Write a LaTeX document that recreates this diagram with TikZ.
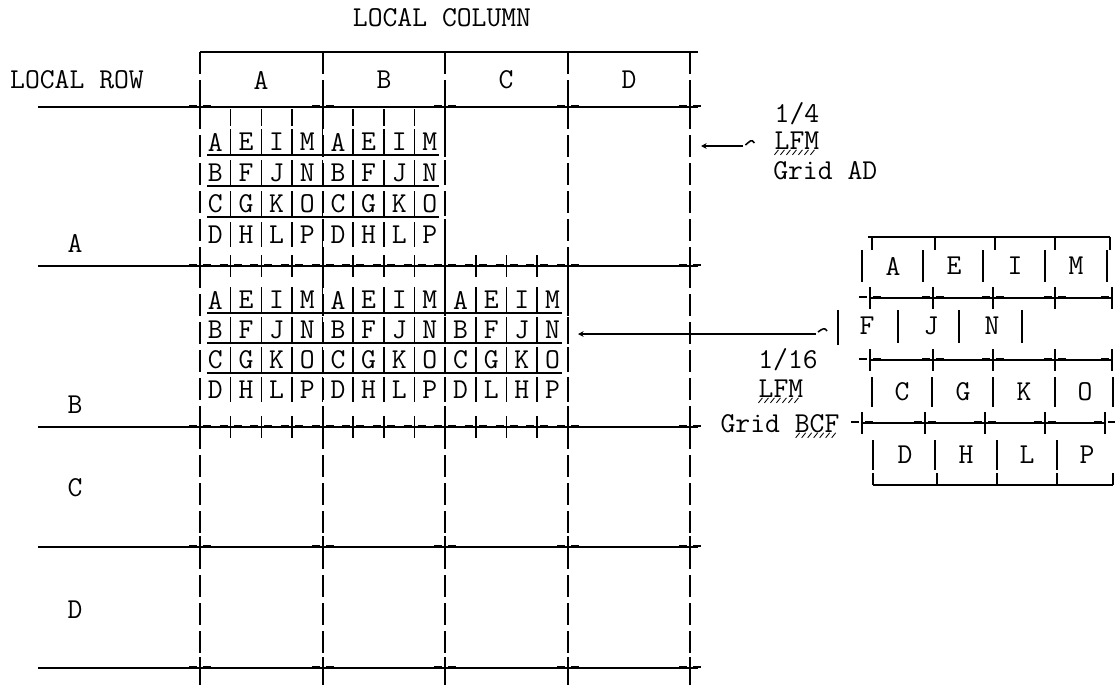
\documentclass[tikz,border=0pt]{standalone}
\usepackage{fontspec}
\usetikzlibrary{arrows.meta, calc}
\tikzset{
  gridrule/.style={line width=1.1pt},
  colline/.style={line width=1.1pt, dash pattern=on 0.55cm off 0.15cm},
  txt/.style={font=\ttfamily\fontsize{20.5}{24}\selectfont, inner sep=0pt},
  cell/.style={font=\ttfamily\fontsize{20.5}{24}\selectfont, inner sep=0pt},
  pointer/.style={line width=1.1pt, -{Stealth[length=4pt,width=4pt]}},
  hatch/.style={line width=0.6pt}
}
\newcommand{\gridcross}[2]{
    \draw[gridrule] (#1,#2-11) -- (#1,#2+11);
    \draw[line width=2pt] (#1-11,#2-1) -- (#1-3,#2-1);
    \draw[line width=2pt] (#1+3,#2-1) -- (#1+11,#2-1);
}
\newcommand{\hatchunder}[2]{
    \foreach \i in {0,...,#2}
        \draw[hatch] ($(#1)+(\i*6,5)$) -- ++(4,-5);
}

\begin{document}
\begin{tikzpicture}[x=0.025cm, y=-0.025cm]
    \useasboundingbox (0,0) rectangle (1115,685);

    % Titulos
    \node[txt] (colTitle) at (442,18) {LOCAL COLUMN};
    \node[txt] (rowTitle) at (77,80) {LOCAL ROW};

    % Cabecera de columnas
    \draw[gridrule] (200,52) -- (698,52);
    \foreach \x/\c in {261/A, 384/B, 506/C, 629/D}
        \node[txt] (col\c) at (\x,80) {\c};

    % Etiquetas de filas
    \foreach \y/\r in {243/A, 405/B, 488/C, 610/D}
        \node[txt] (row\r) at (75,\y) {\r};

    % Lineas de filas y columnas
    \foreach \y in {107,266,427,547,668}
        \draw[gridrule] (38,\y) -- (698,\y);
    \foreach \x in {200,323,445,568,690} {
        \foreach \ya/\yb in {52/107,107/266,266/427,427/547,547/668,668/685}
            \draw[colline] (\x,\ya) -- (\x,\yb);
        \foreach \y in {107,266,427,547,668} {
            \gridcross{\x}{\y}
        }
    }

    % Sub-cuadricula fila A
    \foreach \r/\letras in {0/{A,E,I,M,A,E,I,M}, 1/{B,F,J,N,B,F,J,N},
                            2/{C,G,K,O,C,G,K,O}, 3/{D,H,L,P,D,H,L,P}} {
        \foreach \t [count=\k] in \letras {
            \node[cell] (ga-\r-\k) at ({200+(\k-0.5)*30.65}, {142+\r*31}) {\t};
            \draw[gridrule] ({200+\k*30.65}, {142+\r*31-13}) -- ++(0,25);
        }
    }
    \foreach \r in {0,1,2}
        \draw[gridrule] (207,{142+\r*31+13}) -- (439,{142+\r*31+13});
    \foreach \k in {1,2,3,5,6,7}
        \draw[gridrule] ({200+\k*30.65},109) -- ++(0,17);

    % Sub-cuadricula fila B
    \foreach \r/\letras in {0/{A,E,I,M,A,E,I,M,A,E,I,M}, 1/{B,F,J,N,B,F,J,N,B,F,J,N},
                            2/{C,G,K,O,C,G,K,O,C,G,K,O}, 3/{D,H,L,P,D,H,L,P,D,L,H,P}} {
        \foreach \t [count=\k] in \letras {
            \node[cell] (gb-\r-\k) at ({200+(\k-0.5)*30.65}, {300+\r*30}) {\t};
            \draw[gridrule] ({200+\k*30.65}, {300+\r*30-13}) -- ++(0,25);
        }
    }
    \foreach \r in {0,1,2}
        \draw[gridrule] (207,{300+\r*30+13}) -- (562,{300+\r*30+13});
    \foreach \k in {1,2,3,5,6,7,9,10,11} {
        \gridcross{200+\k*30.65}{266}
        \gridcross{200+\k*30.65}{427}
    }

    % Anotacion 1/4 LFM
    \node[txt] (fracA) at (797,114) {1/4};
    \node[txt] (lfmA) at (797,141) {LFM};
    \node[txt, anchor=west] (gridA) at (773,171) {Grid AD};
    \hatchunder{lfmA.base west}{6}
    \coordinate (arrA) at (701,146);
    \draw[gridrule] ($(lfmA.west)+(-20,2)$) .. controls +(-3,-5) and +(4,-3) .. ++(-9,2);
    \draw[pointer] ($(lfmA.west)+(-31,5)$) -- (arrA);

    % Anotacion 1/16 LFM
    \node[txt] (fracB) at (788,360) {1/16};
    \node[txt] (lfmB) at (781,389) {LFM};
    \node[txt] (gridB) at (780,424) {Grid BCF};
    \coordinate (bcf) at ($(gridB.base east)+(-44,0)$);
    \hatchunder{lfmB.base west}{6}
    \hatchunder{bcf}{6}
    \coordinate (barB) at (838,328);
    \coordinate (arrB) at (578,334);
    \draw[gridrule] ($(barB)+(0,-18)$) -- ++(0,35);
    \draw[gridrule] ($(barB)+(-11,3)$) .. controls +(-2,-4) and +(4,-3) .. ++(-9,1);
    \draw[pointer] ($(barB)+(-22,6)$) -- (arrB);

    % Tabla de detalle 1/16
    \foreach \t/\x in {A/893, E/954, I/1015, M/1076}
        \node[cell] (t1-\t) at (\x,266) {\t};
    \foreach \t/\x in {F/867, J/931, N/992}
        \node[cell] (t2-\t) at (\x,326) {\t};
    \foreach \t/\x in {C/902, G/963, K/1024, O/1085}
        \node[cell] (t3-\t) at (\x,392) {\t};
    \foreach \t/\x in {D/905, H/966, L/1027, P/1087}
        \node[cell] (t4-\t) at (\x,455) {\t};

    \draw[gridrule] (868,237) -- (1110,237);
    \foreach \x in {872,935,995,1055,1110}
        \draw[gridrule] (\x,237) -- (\x,250);
    \foreach \x in {862,923,983,1045,1107}
        \draw[gridrule] (\x,250) -- (\x,282);
    \draw[gridrule] (870,298) -- (1112,298);
    \draw[gridrule] (870,360) -- (1112,360);
    \foreach \x in {870,933,993,1055,1112} {
        \gridcross{\x}{298}
        \gridcross{\x}{360}
    }
    \foreach \x in {898,959,1022}
        \draw[gridrule] (\x,310) -- (\x,343);
    \foreach \x in {872,932,993,1055,1113}
        \draw[gridrule] (\x,377) -- (\x,407);
    \draw[gridrule] (862,423) -- (1105,423);
    \foreach \x in {862,925,985,1045,1105} {
        \gridcross{\x}{423}
    }
    \foreach \x in {873,935,997,1057}
        \draw[gridrule] (\x,440) -- (\x,470);
    \draw[gridrule] (873,485) -- (1113,485);
    \foreach \x in {873,937,997,1057,1113}
        \draw[gridrule] (\x,473) -- (\x,485);

\end{tikzpicture}
\end{document}
